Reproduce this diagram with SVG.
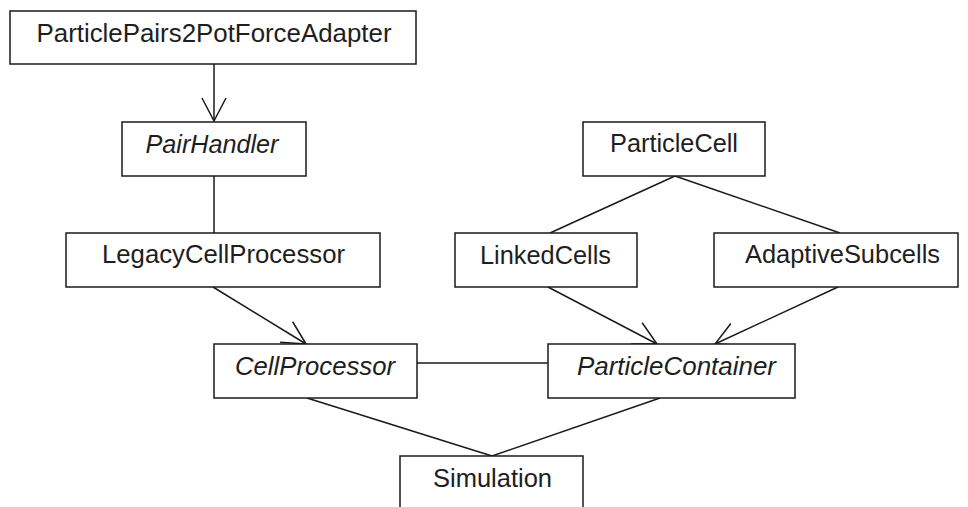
<svg xmlns="http://www.w3.org/2000/svg" width="968" height="507" viewBox="0 0 968 507">
<defs>
<style>
.box{fill:#fff;stroke:#1a1a1a;stroke-width:1.5}
.lbl{font-family:"Liberation Sans",Arial,sans-serif;font-size:25px;fill:#1e1e1e;text-anchor:middle}
.it{font-style:italic}
.con{stroke:#1a1a1a;stroke-width:1.5;fill:none}
</style>
<marker id="open" markerUnits="userSpaceOnUse" viewBox="-26 -14 28 28" markerWidth="28" markerHeight="28" refX="0" refY="0" orient="auto">
<path d="M-23,-12 L0,0 L-23,12" fill="none" stroke="#1a1a1a" stroke-width="1.5"/>
</marker>
</defs>
<rect width="968" height="507" fill="#fff"/>
<g id="connectors">
<line class="con" x1="214" y1="64" x2="214" y2="121" marker-end="url(#open)"/>
<line class="con" x1="214" y1="176" x2="214" y2="233"/>
<line class="con" x1="213" y1="287" x2="306" y2="344" marker-end="url(#open)"/>
<line class="con" x1="417" y1="363" x2="548" y2="363"/>
<line class="con" x1="675" y1="176" x2="550" y2="233"/>
<line class="con" x1="675" y1="176" x2="840" y2="233"/>
<line class="con" x1="548" y1="287" x2="657" y2="344" marker-end="url(#open)"/>
<line class="con" x1="838" y1="287" x2="715" y2="344" marker-end="url(#open)"/>
<line class="con" x1="307" y1="398" x2="492" y2="456"/>
<line class="con" x1="660" y1="398" x2="492" y2="456"/>
</g>
<g id="ParticlePairs2PotForceAdapter">
<rect class="box" x="10" y="11" width="406" height="53"/>
<text class="lbl" x="214" y="42" textLength="355" lengthAdjust="spacingAndGlyphs">ParticlePairs2PotForceAdapter</text>
</g>
<g id="PairHandler">
<rect class="box" x="122" y="122" width="184" height="54"/>
<text class="lbl it" x="212" y="153" textLength="133" lengthAdjust="spacingAndGlyphs">PairHandler</text>
</g>
<g id="ParticleCell">
<rect class="box" x="583" y="122" width="182" height="54"/>
<text class="lbl" x="674" y="152" textLength="128" lengthAdjust="spacingAndGlyphs">ParticleCell</text>
</g>
<g id="LegacyCellProcessor">
<rect class="box" x="66" y="233" width="314" height="54"/>
<text class="lbl" x="223.5" y="263" textLength="243" lengthAdjust="spacingAndGlyphs">LegacyCellProcessor</text>
</g>
<g id="LinkedCells">
<rect class="box" x="455" y="233" width="182" height="54"/>
<text class="lbl" x="545.5" y="264" textLength="131" lengthAdjust="spacingAndGlyphs">LinkedCells</text>
</g>
<g id="AdaptiveSubcells">
<rect class="box" x="714" y="233" width="244" height="54"/>
<text class="lbl" x="842.5" y="263" textLength="195" lengthAdjust="spacingAndGlyphs">AdaptiveSubcells</text>
</g>
<g id="CellProcessor">
<rect class="box" x="214" y="344" width="203" height="54"/>
<text class="lbl it" x="315" y="375" textLength="160" lengthAdjust="spacingAndGlyphs">CellProcessor</text>
</g>
<g id="ParticleContainer">
<rect class="box" x="548" y="344" width="247" height="54"/>
<text class="lbl it" x="676.5" y="375" textLength="199" lengthAdjust="spacingAndGlyphs">ParticleContainer</text>
</g>
<g id="Simulation">
<rect class="box" x="400" y="456" width="183" height="60"/>
<text class="lbl" x="492.5" y="487" textLength="119" lengthAdjust="spacingAndGlyphs">Simulation</text>
</g>
</svg>
